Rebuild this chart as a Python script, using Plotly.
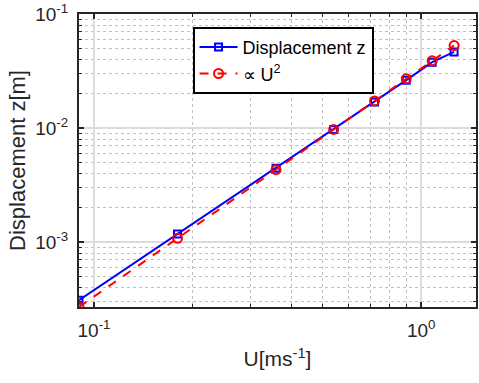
import math
import plotly.graph_objects as go

U = [0.09, 0.18, 0.36, 0.54, 0.72, 0.90, 1.08, 1.26]
z_disp = [3.1e-4, 1.18e-3, 4.45e-3, 9.7e-3, 0.0169, 0.0263, 0.0378, 0.0465]
z_u2 = [2.7e-4, 1.08e-3, 4.32e-3, 9.72e-3, 0.01728, 0.0270, 0.03888, 0.05292]

x_tickvals = [0.1, 1]
x_ticktext = ["10<sup>-1</sup>", "10<sup>0</sup>"]
y_tickvals = [1e-3, 1e-2, 1e-1]
y_ticktext = ["10<sup>-3</sup>", "10<sup>-2</sup>", "10<sup>-1</sup>"]
x_lim = [0.09, 1.47]
y_lim = [2.7e-4, 0.1]

FONT = "Liberation Sans, Arial, sans-serif"
AX = "#262626"

fig = go.Figure()
fig.add_trace(go.Scatter(
    x=U, y=z_disp, mode="lines+markers", name="Displacement z",
    line=dict(color="#0000ff", width=2),
    marker=dict(symbol="square-open", size=7, color="#0000ff", line=dict(width=2, color="#0000ff")),
))
fig.add_trace(go.Scatter(
    x=U, y=z_u2, mode="lines+markers", name="\u221d U<sup>2</sup>",
    line=dict(color="#ff0000", width=2, dash="dash"),
    marker=dict(symbol="circle-open", size=9, color="#ff0000", line=dict(width=2, color="#ff0000")),
))

axis_common = dict(
    type="log", showline=True, linecolor=AX, linewidth=2, mirror="allticks",
    ticks="inside", ticklen=5, tickwidth=1.5, tickcolor=AX,
    showgrid=True, gridcolor="#dcdcdc", gridwidth=1.5,
    zeroline=False, tickmode="array",
    tickfont=dict(family=FONT, size=19, color=AX),
    ticklabelstandoff=5,
    minor=dict(dtick="D1", ticks="inside", ticklen=3, tickcolor=AX, tickwidth=1,
               showgrid=True, gridcolor="#c0c0c0", griddash="dot", gridwidth=1),
)

fig.update_xaxes(**axis_common, tickvals=x_tickvals, ticktext=x_ticktext,
                 range=[math.log10(x_lim[0]), math.log10(x_lim[1])],
                 title=dict(text="U[ms<sup>-1</sup>]", font=dict(family=FONT, size=21, color=AX), standoff=12))
fig.update_yaxes(**axis_common, tickvals=y_tickvals, ticktext=y_ticktext,
                 range=[math.log10(y_lim[0]), math.log10(y_lim[1])],
                 title=dict(text="Displacement z[m]", font=dict(family=FONT, size=22, color=AX), standoff=4))

fig.update_layout(
    width=479, height=383,
    margin=dict(l=79, r=1, t=14, b=76),
    paper_bgcolor="white", plot_bgcolor="white",
    showlegend=True,
    legend=dict(x=0.286, y=0.956, xanchor="left", yanchor="top",
                bgcolor="white", bordercolor="#000000", borderwidth=2,
                font=dict(family=FONT, size=18, color="#000000"),
                itemwidth=38, tracegroupgap=0),
)

fig.write_html("out.html")
